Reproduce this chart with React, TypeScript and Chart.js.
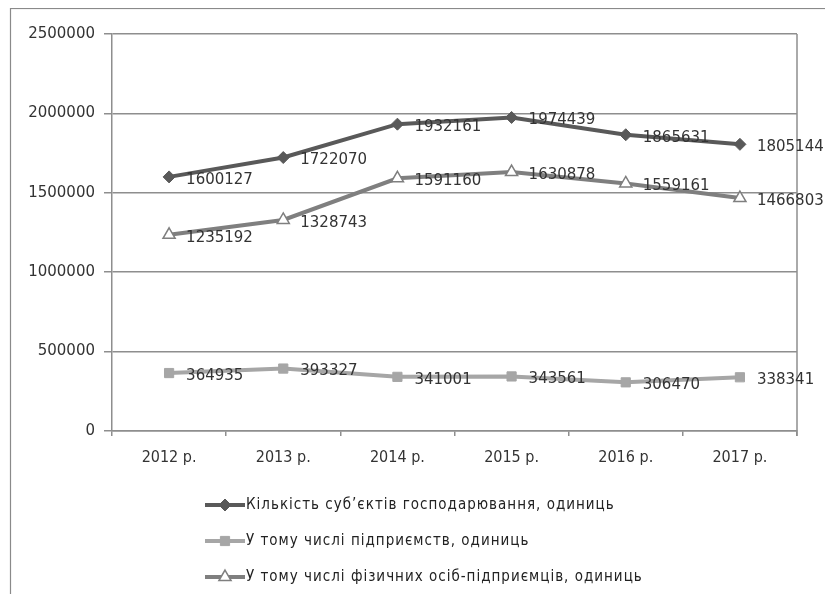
import React, { useEffect, useRef } from "react";
import { Chart, registerables } from "chart.js";
import { drawPoint } from "chart.js/helpers";

Chart.register(...registerables);

const categories = ["2012 р.", "2013 р.", "2014 р.", "2015 р.", "2016 р.", "2017 р."];
const seriesNames = [
  "Кількість суб’єктів господарювання, одиниць",
  "У тому числі підприємств, одиниць",
  "У тому числі фізичних осіб-підприємців, одиниць",
];
const totalEntities = [1600127, 1722070, 1932161, 1974439, 1865631, 1805144];
const enterprises = [364935, 393327, 341001, 343561, 306470, 338341];
const entrepreneurs = [1235192, 1328743, 1591160, 1630878, 1559161, 1466803];
const yTicks = [0, 500000, 1000000, 1500000, 2000000, 2500000];

const GRID = "#8e8e8e";
const TEXT = "#333333";

const decorPlugin = {
  id: "decor",
  beforeDraw(chart: any) {
    const ctx = chart.ctx;
    ctx.save();
    ctx.strokeStyle = "#8a8a8a";
    ctx.lineWidth = 1.2;
    ctx.strokeRect(2.5, 0.5, chart.width + 20, chart.height + 20);
    ctx.restore();
  },
  afterDraw(chart: any) {
    const ctx = chart.ctx;
    const area = chart.chartArea;
    ctx.save();
    ctx.strokeStyle = GRID;
    ctx.lineWidth = 1.5;
    ctx.beginPath();
    ctx.moveTo(area.right, area.top);
    ctx.lineTo(area.right, area.bottom + 5);
    ctx.stroke();

    ctx.font = "15px 'DejaVu Sans'";
    ctx.fillStyle = TEXT;
    ctx.textAlign = "left";
    ctx.textBaseline = "middle";
    chart.data.datasets.forEach((ds: any, di: number) => {
      const meta = chart.getDatasetMeta(di);
      meta.data.forEach((pt: any, i: number) => {
        ctx.fillText(String(ds.data[i]), pt.x + 17, pt.y + 3);
      });
    });

    const lx0 = 197;
    const lx1 = 237;
    const baseY = area.bottom + 74;
    ctx.font = "15px 'DejaVu Sans Condensed'";
    chart.data.datasets.forEach((ds: any, di: number) => {
      const y = baseY + di * 36;
      ctx.strokeStyle = ds.borderColor;
      ctx.lineWidth = 4;
      ctx.beginPath();
      ctx.moveTo(lx0, y);
      ctx.lineTo(lx1, y);
      ctx.stroke();
      ctx.fillStyle = ds.pointBackgroundColor;
      ctx.strokeStyle = ds.pointBorderColor;
      ctx.lineWidth = ds.pointBorderWidth;
      drawPoint(ctx, { pointStyle: ds.pointStyle, radius: ds.pointRadius, borderWidth: ds.pointBorderWidth, rotation: 0 } as any, (lx0 + lx1) / 2, y);
      ctx.fillStyle = "#222222";
      (ctx as any).letterSpacing = "1px";
      ctx.fillText(seriesNames[di], lx1 + 1, y);
      (ctx as any).letterSpacing = "0px";
    });
    ctx.restore();
  },
};

export default function App() {
  const ref = useRef<HTMLCanvasElement>(null);
  useEffect(() => {
    if (!ref.current) return;
    const chart = new Chart(ref.current, {
      type: "line",
      data: {
        labels: categories,
        datasets: [
          {
            label: seriesNames[0],
            data: totalEntities,
            borderColor: "#595959",
            backgroundColor: "#595959",
            pointBackgroundColor: "#595959",
            pointBorderColor: "#595959",
            pointBorderWidth: 1,
            borderWidth: 4,
            pointStyle: "rectRot",
            pointRadius: 6,
            tension: 0,
          },
          {
            label: seriesNames[1],
            data: enterprises,
            borderColor: "#a6a6a6",
            backgroundColor: "#a6a6a6",
            pointBackgroundColor: "#a6a6a6",
            pointBorderColor: "#a6a6a6",
            pointBorderWidth: 1,
            borderWidth: 4,
            pointStyle: "rect",
            pointRadius: 6.5,
            tension: 0,
          },
          {
            label: seriesNames[2],
            data: entrepreneurs,
            borderColor: "#7f7f7f",
            backgroundColor: "#ffffff",
            pointBackgroundColor: "#ffffff",
            pointBorderColor: "#7f7f7f",
            pointBorderWidth: 1.5,
            borderWidth: 4,
            pointStyle: "triangle",
            pointRadius: 7,
            tension: 0,
          },
        ],
      },
      options: {
        responsive: false,
        animation: false,
        layout: { padding: { top: 26, right: 28, left: 0, bottom: 0 } },
        plugins: { legend: { display: false }, tooltip: { enabled: false } },
        scales: {
          x: {
            type: "category",
            offset: true,
            grid: { offset: true, drawOnChartArea: false, drawTicks: true, tickLength: 5, color: GRID, lineWidth: 1.5 },
            border: { color: GRID, width: 1.5 },
            ticks: { color: TEXT, font: { family: "'DejaVu Sans Condensed'", size: 16 }, padding: 12, maxRotation: 0 },
            afterFit: (s: any) => { s.height = 163; },
          },
          y: {
            min: 0,
            max: 2500000,
            afterBuildTicks: (s: any) => { s.ticks = yTicks.map((v) => ({ value: v })); },
            grid: { color: GRID, lineWidth: 1.5, tickLength: 8 },
            border: { color: GRID, width: 1.5 },
            ticks: { color: TEXT, font: { family: "'DejaVu Sans'", size: 15 }, padding: 9, callback: (v: any) => String(v) },
            afterFit: (s: any) => { s.width = 104; },
          },
        },
      },
      plugins: [decorPlugin],
    });
    return () => chart.destroy();
  }, []);
  return (
    <div style={{ position: "fixed", left: 8, top: 8, width: 817, height: 586, overflow: "hidden" }}>
      <canvas ref={ref} width={817} height={586} />
    </div>
  );
}
